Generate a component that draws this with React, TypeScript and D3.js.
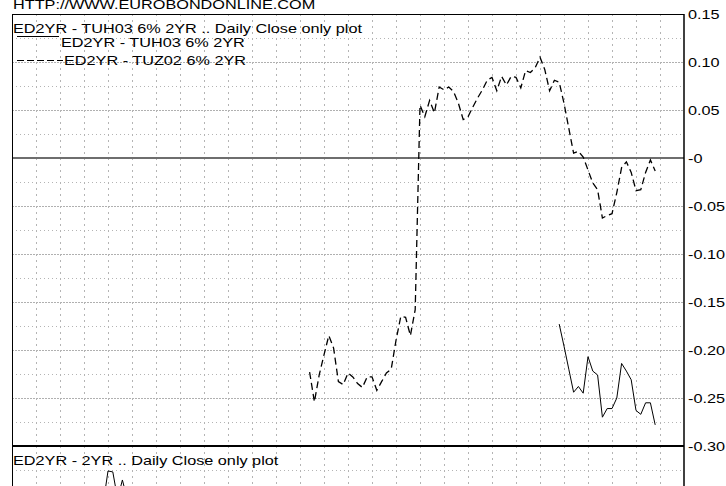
import React, { useRef, useEffect } from 'react';
import * as d3 from 'd3';

// trading-day index on the x axis, one vertical grid line per week (5 days)
const dayCount = 140;
const weekTicks = d3.range(5, dayCount, 5);

const yTickValues = [0.15, 0.10, 0.05, 0, -0.05, -0.10, -0.15, -0.20, -0.25, -0.30];
const yTickLabels = ['0.15', '0.10', '0.05', '-0', '-0.05', '-0.10', '-0.15', '-0.20', '-0.25', '-0.30'];

// ED2YR - TUZ02 6% 2YR (dashed), starting at day 62
const tuz02Start = 62;
const tuz02 = [
  -0.223, -0.254, -0.226, -0.205, -0.185, -0.198, -0.233, -0.236, -0.224, -0.228,
  -0.235, -0.239, -0.228, -0.228, -0.242, -0.233, -0.224, -0.220, -0.190, -0.165,
  -0.166, -0.185, -0.158, 0.055, 0.043, 0.060, 0.047, 0.074, 0.071, 0.074,
  0.069, 0.057, 0.040, 0.043, 0.053, 0.0625, 0.071, 0.081, 0.084, 0.070,
  0.085, 0.076, 0.085, 0.084, 0.073, 0.091, 0.089, 0.094, 0.105, 0.092,
  0.070, 0.081, 0.079, 0.057, 0.031, 0.005, 0.007, 0.001, -0.0125, -0.026,
  -0.033, -0.0625, -0.060, -0.058, -0.036, -0.010, -0.004, -0.015, -0.034, -0.033,
  -0.015, -0.002, -0.0135,
];

// ED2YR - TUH03 6% 2YR (solid), starting at day 114
const tuh03Start = 114;
const tuh03 = [
  -0.173, -0.196, -0.220, -0.244, -0.238, -0.245, -0.207, -0.222, -0.226, -0.270,
  -0.261, -0.261, -0.250, -0.214, -0.222, -0.231, -0.263, -0.267, -0.255, -0.255,
  -0.278,
];

// lower panel: ED2YR - 2YR, only its top edge is visible
const ed2yrStart = 19;
const ed2yr = [0.040, 0.074, 0.073, 0.045, 0.0646, 0.045];

const FONT = '"Liberation Sans", Arial, sans-serif';

function App(): React.ReactElement {
  const svgRef = useRef<SVGSVGElement | null>(null);

  useEffect(() => {
    const width = 726;
    const height = 486;
    const left = 12;
    const right = 684;
    const top = 14;
    const panelSplit = 446;

    const x = d3.scaleLinear().domain([0, dayCount]).range([left, right]);
    const y = d3.scaleLinear().domain([-0.30, 0.15]).range([panelSplit, top]);
    const yLow = d3.scaleLinear().domain([0, 0.10]).range([panelSplit + 96, panelSplit]);

    const svg = d3.select(svgRef.current);
    svg.selectAll('*').remove();
    svg.attr('width', width).attr('height', height);

    svg.append('rect').attr('width', width).attr('height', height).attr('fill', '#fff');

    const grid = svg.append('g');

    // minor horizontal grid (every 0.025)
    const minorTop = yTickValues.slice(1).map((v) => v + 0.025);
    grid.selectAll('line.minor')
      .data(minorTop)
      .enter()
      .append('line')
      .attr('x1', left)
      .attr('x2', right)
      .attr('y1', (d) => Math.round(y(d)) + 0.5)
      .attr('y2', (d) => Math.round(y(d)) + 0.5)
      .attr('stroke', '#b4b4b4')
      .attr('stroke-dasharray', '1,3');

    // major horizontal grid
    grid.selectAll('line.major')
      .data(yTickValues.filter((v) => v !== 0.15 && v !== 0 && v !== -0.30))
      .enter()
      .append('line')
      .attr('x1', left)
      .attr('x2', right)
      .attr('y1', (d) => Math.round(y(d)) + 0.5)
      .attr('y2', (d) => Math.round(y(d)) + 0.5)
      .attr('stroke', '#b0b0b0')
      .attr('stroke-dasharray', '2,1');

    // lower panel grid line
    grid.append('line')
      .attr('x1', left)
      .attr('x2', right)
      .attr('y1', Math.round(yLow(0.075)) + 0.5)
      .attr('y2', Math.round(yLow(0.075)) + 0.5)
      .attr('stroke', '#b4b4b4')
      .attr('stroke-dasharray', '1,3');

    // vertical weekly grid
    grid.selectAll('line.week')
      .data(weekTicks)
      .enter()
      .append('line')
      .attr('x1', (d) => Math.round(x(d)) + 0.5)
      .attr('x2', (d) => Math.round(x(d)) + 0.5)
      .attr('y1', top)
      .attr('y2', height)
      .attr('stroke', '#b4b4b4')
      .attr('stroke-dasharray', '2,4');

    // zero line
    svg.append('line')
      .attr('x1', left)
      .attr('x2', right)
      .attr('y1', y(0))
      .attr('y2', y(0))
      .attr('stroke', '#6e6e6e')
      .attr('stroke-width', 2);

    // frame
    svg.append('line').attr('x1', left).attr('x2', right).attr('y1', top + 0.5).attr('y2', top + 0.5)
      .attr('stroke', '#000');
    svg.append('line').attr('x1', left + 0.5).attr('x2', left + 0.5).attr('y1', top).attr('y2', height)
      .attr('stroke', '#000');
    svg.append('line').attr('x1', right).attr('x2', right).attr('y1', top).attr('y2', height)
      .attr('stroke', '#000')
      .attr('stroke-width', 1.5);
    svg.append('line').attr('x1', left).attr('x2', right).attr('y1', panelSplit).attr('y2', panelSplit)
      .attr('stroke', '#000')
      .attr('stroke-width', 2);

    const line = d3.line<number>().x((d, i) => x(i)).y((d) => d);

    const toPts = (vals: number[], start: number, sc: d3.ScaleLinear<number, number>) =>
      vals.map((v, i) => [x(start + i), sc(v)] as [number, number]);

    const pathLine = d3.line<[number, number]>();
    void line;

    const clipTop = svg.append('clipPath').attr('id', 'clipTop');
    clipTop.append('rect').attr('x', left).attr('y', top).attr('width', right - left).attr('height', panelSplit - top);
    const clipLow = svg.append('clipPath').attr('id', 'clipLow');
    clipLow.append('rect').attr('x', left).attr('y', panelSplit).attr('width', right - left).attr('height', 200);

    svg.append('path')
      .attr('clip-path', 'url(#clipTop)')
      .attr('d', pathLine(toPts(tuz02, tuz02Start, y)))
      .attr('fill', 'none')
      .attr('stroke', '#000')
      .attr('stroke-width', 1.3)
      .attr('stroke-dasharray', '7,4');

    svg.append('path')
      .attr('clip-path', 'url(#clipTop)')
      .attr('d', pathLine(toPts(tuh03, tuh03Start, y)))
      .attr('fill', 'none')
      .attr('stroke', '#000')
      .attr('stroke-width', 1);

    svg.append('path')
      .attr('clip-path', 'url(#clipLow)')
      .attr('d', pathLine(toPts(ed2yr, ed2yrStart, yLow)))
      .attr('fill', 'none')
      .attr('stroke', '#000')
      .attr('stroke-width', 1);

    // texts are stretched horizontally like in the original image
    const addText = (tx: number, ty: number, s: string, baseline = 'alphabetic') => {
      svg.append('text')
        .attr('transform', `translate(${tx},${ty}) scale(1.25,1)`)
        .attr('font-family', FONT)
        .attr('font-size', 13)
        .attr('dominant-baseline', baseline)
        .attr('fill', '#000')
        .text(s);
    };

    addText(13, 8.5, 'HTTP://WWW.EUROBONDONLINE.COM');
    addText(13, 33, 'ED2YR - TUH03 6% 2YR .. Daily Close only plot');

    svg.append('line').attr('x1', 17).attr('x2', 59).attr('y1', 36.5).attr('y2', 36.5).attr('stroke', '#000');
    addText(61, 46.5, 'ED2YR - TUH03 6% 2YR');
    svg.append('line').attr('x1', 17).attr('x2', 63).attr('y1', 60.5).attr('y2', 60.5)
      .attr('stroke', '#000')
      .attr('stroke-dasharray', '7,3');
    addText(64, 65, 'ED2YR - TUZ02 6% 2YR');

    addText(13, 465, 'ED2YR - 2YR .. Daily Close only plot');

    yTickValues.forEach((v, i) => {
      addText(688, y(v) + 4.5, yTickLabels[i]);
    });
  }, []);

  return (
    <div style={{ position: 'fixed', left: 0, top: 0 }}>
      <svg ref={svgRef} width={726} height={486} style={{ display: 'block' }} />
    </div>
  );
}

export default App;
